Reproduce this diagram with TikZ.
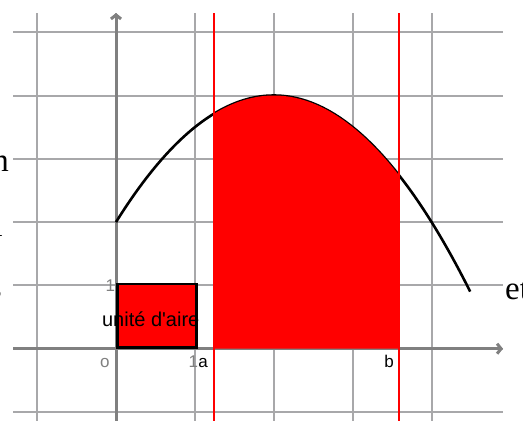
\documentclass[tikz,border=0pt]{standalone}
\usepackage{fontspec}
\setmainfont{Liberation Serif}
\newfontfamily\labfont{Liberation Sans}
\usetikzlibrary{arrows.meta}
\definecolor{gridgray}{RGB}{168,168,170}
\definecolor{axisgray}{RGB}{128,128,128}
\begin{document}
\begin{tikzpicture}[x=1pt,y=-1pt,
  gridline/.style={gridgray,line width=2pt},
  axisline/.style={axisgray,line width=3pt,-{Straight Barb[length=4pt,width=10pt]}},
  boundline/.style={red,line width=2pt},
  curveline/.style={black,line width=2.6pt},
  axlabel/.style={axisgray,font=\labfont\fontsize{17}{17}\selectfont,inner sep=0pt},
  ptlabel/.style={black,font=\labfont\fontsize{17}{17}\selectfont,inner sep=0pt},
  sidetext/.style={black,font=\fontsize{33}{33}\selectfont,inner sep=0pt}]
\useasboundingbox (0,0) rectangle (523,421);
\clip (0,0) rectangle (523,421);
\fill[white] (0,0) rectangle (523,421);
% fragments of the surrounding text
\node[sidetext,anchor=base east] (t1) at (9,171.5) {n};
\node[sidetext,anchor=base east] (t2) at (3,236.5) {l};
\node[sidetext,anchor=base east] (t3) at (2,298) {s};
\node[sidetext,anchor=base west] (t4) at (505,299) {et};
\begin{scope}[shift={(116,348.7)},x=78.9pt,y=63.3pt]
  % grid
  \foreach \i in {-1,...,4} \draw[gridline] (\i,-1.2) -- (\i,5.303);
  \foreach \j in {-1,...,5} \draw[gridline] (-1.305,\j) -- (4.905,\j);
  % axes
  \coordinate (xs) at (-1.305,0);
  \coordinate (xe) at (4.905,0);
  \coordinate (ys) at (0,-1.2);
  \coordinate (ye) at (0,5.303);
  \draw[axisline] (xs) -- (xe);
  \draw[axisline] (ys) -- (ye);
  % curve
  \draw[curveline,domain=0:4.49,samples=80,smooth] plot (\x,{4-(\x-2)^2/2});
  % area
  \fill[red] (1.246,0) -- plot[domain=1.246:3.587,samples=60,smooth] (\x,{4-(\x-2)^2/2}) -- (3.587,0) -- cycle;
  % bounds
  \coordinate (at) at (1.246,5.303);
  \coordinate (ab) at (1.246,-1.2);
  \coordinate (bt) at (3.587,5.303);
  \coordinate (bb) at (3.587,-1.2);
  \draw[boundline] (ab) -- (at);
  \draw[boundline] (bb) -- (bt);
  % labels on axes
  \node[axlabel,anchor=east] (one-y) at (-0.01,0.99) {1};
  \node[axlabel] (orig) at (-0.14,-0.22) {o};
  \node[axlabel] (one-x) at (0.98,-0.21) {1};
  % unit square
  \node[draw=black,fill=red,line width=2.6pt,minimum width=78.9pt,minimum height=63.3pt,inner sep=0pt,anchor=south west] (sq) at (0,0) {};
  \node[black,font=\labfont\fontsize{20}{20}\selectfont,inner sep=0pt] (ua) at (0.44,0.47) {unité d'aire};
  \node[ptlabel] (la) at (1.105,-0.22) {a};
  \node[ptlabel] (lb) at (3.46,-0.20) {b};
\end{scope}
\end{tikzpicture}
\end{document}
